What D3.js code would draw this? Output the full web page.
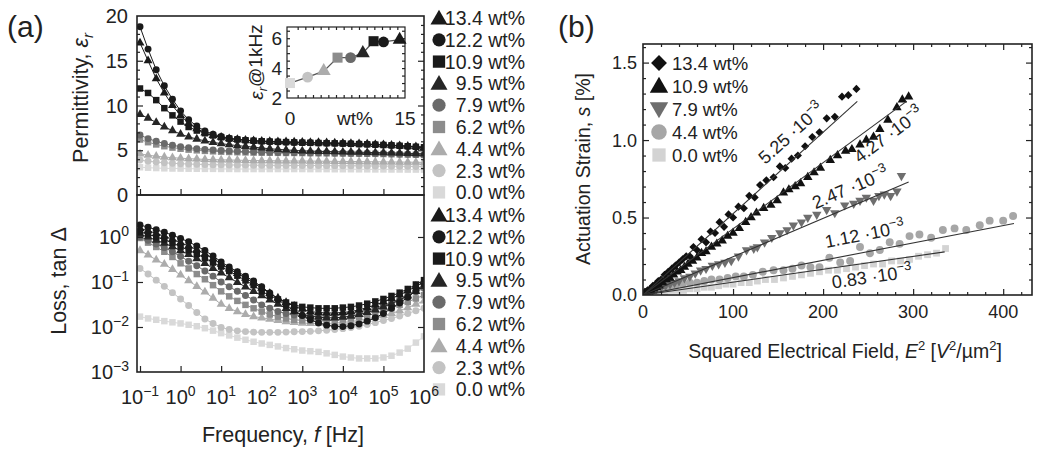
<!DOCTYPE html>
<html><head><meta charset="utf-8">
<script src="https://cdn.jsdelivr.net/npm/d3@7/dist/d3.min.js"></script>
<style>
html,body{margin:0;padding:0;background:#fff;}
svg text{font-family:"Liberation Sans",Arial,Helvetica,sans-serif;fill:#222;}
</style></head><body>
<svg id="chart" width="1039" height="449"></svg>
<script>
// ---------------- DATA ----------------
const freq = [0.1,0.158,0.251,0.398,0.631,1,1.58,2.51,3.98,6.31,10,15.8,25.1,39.8,63.1,100,158,251,398,631,1000,1580,2510,3980,6310,10000,15800,25100,39800,63100,100000,158000,251000,398000,631000,1000000];
const seriesLabels = ["13.4 wt%","12.2 wt%","10.9 wt%","9.5 wt%","7.9 wt%","6.2 wt%","4.4 wt%","2.3 wt%","0.0 wt%"];
const wtPercent = [13.4,12.2,10.9,9.5,7.9,6.2,4.4,2.3,0.0];

const perm134 = [17.0,15.0,13.0,11.4,10.0,8.9,8.0,7.4,6.95,6.65,6.45,6.3,6.2,6.12,6.06,6.02,5.99,5.97,5.95,5.93,5.9,5.88,5.86,5.84,5.82,5.8,5.77,5.74,5.7,5.66,5.62,5.57,5.52,5.46,5.4,5.33];
const perm122 = [18.8,16.3,14.0,12.2,10.7,9.4,8.4,7.7,7.15,6.8,6.55,6.35,6.22,6.12,6.05,6.0,5.96,5.93,5.9,5.87,5.85,5.83,5.81,5.79,5.77,5.75,5.72,5.69,5.66,5.62,5.58,5.53,5.48,5.43,5.37,5.3];
const perm109 = [11.9,11.4,10.6,9.7,8.9,8.2,7.6,7.2,6.9,6.65,6.45,6.3,6.2,6.12,6.06,6.01,5.97,5.94,5.91,5.88,5.85,5.83,5.81,5.79,5.77,5.75,5.72,5.69,5.66,5.63,5.59,5.55,5.5,5.45,5.39,5.33];
const perm95  = [9.0,8.6,8.1,7.6,7.2,6.8,6.5,6.25,6.05,5.88,5.74,5.62,5.52,5.43,5.35,5.25,5.17,5.1,5.04,4.98,4.93,4.9,4.88,4.86,4.84,4.82,4.8,4.78,4.76,4.74,4.72,4.7,4.68,4.66,4.63,4.6];
const perm79  = [6.7,6.3,6.0,5.75,5.55,5.4,5.28,5.18,5.1,5.03,4.98,4.93,4.89,4.85,4.82,4.79,4.77,4.75,4.73,4.72,4.71,4.7,4.69,4.68,4.67,4.66,4.65,4.64,4.63,4.62,4.6,4.58,4.56,4.54,4.51,4.48];
const perm62  = [6.2,5.9,5.65,5.45,5.3,5.17,5.07,4.99,4.93,4.88,4.84,4.81,4.78,4.76,4.74,4.73,4.72,4.71,4.7,4.7,4.69,4.68,4.67,4.66,4.65,4.64,4.63,4.62,4.61,4.6,4.58,4.56,4.54,4.52,4.5,4.47];
const perm44  = [4.6,4.45,4.33,4.24,4.17,4.11,4.06,4.02,3.98,3.95,3.93,3.91,3.89,3.87,3.85,3.84,3.83,3.82,3.81,3.8,3.8,3.79,3.78,3.77,3.76,3.75,3.74,3.73,3.72,3.71,3.7,3.69,3.68,3.67,3.66,3.65];
const perm23  = [3.9,3.78,3.68,3.6,3.54,3.5,3.46,3.43,3.41,3.39,3.37,3.36,3.35,3.34,3.33,3.32,3.31,3.31,3.3,3.3,3.3,3.29,3.29,3.28,3.28,3.27,3.27,3.26,3.25,3.24,3.23,3.22,3.21,3.2,3.19,3.18];
const perm00  = [3.1,3.05,3.01,2.98,2.96,2.95,2.94,2.93,2.92,2.92,2.91,2.91,2.9,2.9,2.9,2.9,2.9,2.9,2.9,2.9,2.9,2.89,2.89,2.89,2.88,2.88,2.88,2.87,2.87,2.86,2.86,2.85,2.85,2.84,2.84,2.83];

const loss134 = [1.55,1.38,1.2,1.04,0.89,0.75,0.63,0.52,0.42,0.33,0.25,0.195,0.155,0.122,0.095,0.073,0.056,0.044,0.035,0.029,0.025,0.022,0.021,0.0205,0.0205,0.021,0.022,0.024,0.027,0.031,0.036,0.043,0.052,0.063,0.08,0.1];
const loss122 = [1.85,1.65,1.45,1.27,1.1,0.93,0.78,0.63,0.5,0.38,0.28,0.215,0.17,0.135,0.105,0.078,0.057,0.041,0.03,0.023,0.018,0.0145,0.0123,0.011,0.0102,0.0102,0.0107,0.0117,0.0135,0.016,0.02,0.026,0.034,0.046,0.064,0.09];
const loss109 = [1.3,1.15,1.0,0.88,0.74,0.61,0.51,0.42,0.34,0.27,0.22,0.175,0.138,0.108,0.085,0.062,0.05,0.041,0.035,0.031,0.028,0.027,0.026,0.026,0.026,0.027,0.028,0.03,0.033,0.037,0.042,0.049,0.058,0.07,0.088,0.11];
const loss95  = [1.15,1.0,0.85,0.73,0.61,0.5,0.41,0.33,0.26,0.2,0.16,0.125,0.098,0.078,0.062,0.05,0.04,0.032,0.026,0.022,0.019,0.0175,0.0165,0.016,0.016,0.0165,0.0175,0.019,0.021,0.024,0.028,0.033,0.04,0.049,0.062,0.08];
const loss79  = [1.0,0.85,0.7,0.58,0.47,0.37,0.29,0.23,0.175,0.135,0.1,0.078,0.062,0.05,0.04,0.031,0.026,0.022,0.02,0.0185,0.018,0.0175,0.0175,0.0178,0.0183,0.019,0.02,0.0215,0.0235,0.026,0.03,0.035,0.041,0.049,0.06,0.073];
const loss62  = [0.95,0.75,0.6,0.47,0.36,0.26,0.2,0.15,0.115,0.085,0.062,0.048,0.038,0.031,0.026,0.022,0.019,0.017,0.0155,0.0145,0.014,0.0137,0.0135,0.0137,0.014,0.0147,0.0155,0.0167,0.018,0.02,0.023,0.026,0.031,0.036,0.043,0.051];
const loss44  = [0.5,0.4,0.31,0.25,0.19,0.143,0.107,0.08,0.06,0.044,0.032,0.026,0.022,0.019,0.017,0.016,0.015,0.014,0.0132,0.0126,0.0122,0.012,0.012,0.012,0.0122,0.0126,0.0132,0.014,0.015,0.0165,0.018,0.02,0.023,0.027,0.032,0.038];
const loss23  = [0.2,0.15,0.11,0.08,0.058,0.042,0.03,0.021,0.015,0.012,0.0098,0.0088,0.0082,0.0079,0.0077,0.0076,0.0076,0.0076,0.0077,0.0078,0.0079,0.008,0.0082,0.0085,0.0088,0.0092,0.0097,0.0104,0.0113,0.0125,0.014,0.0155,0.0175,0.02,0.023,0.026];
const loss00  = [0.017,0.0155,0.0145,0.0135,0.0127,0.012,0.0112,0.0104,0.0094,0.0083,0.0073,0.0065,0.0058,0.0052,0.0047,0.0043,0.004,0.0037,0.0034,0.0032,0.003,0.0029,0.0028,0.0026,0.0024,0.0022,0.0021,0.002,0.002,0.002,0.0021,0.0023,0.0027,0.0033,0.0045,0.0062];

// inset: permittivity at 1 kHz vs wt%
const insetWt  = [0.0,2.3,4.4,6.2,7.9,9.5,10.9,12.2,14.3];
const insetEps = [3.0,3.4,3.8,4.7,4.7,5.0,5.8,5.75,5.9];

// panel (b)
const strainLabels = ["13.4 wt%","10.9 wt%","7.9 wt%","4.4 wt%","0.0 wt%"];
const fitSlopes = [5.25e-3,4.27e-3,2.47e-3,1.12e-3,0.83e-3];
const fitSlopeText = ["5.25","4.27","2.47","1.12","0.83"];
const fitEnds = [238,293,295,412,335];
const strE134 = [2,5,8,11,14,17,20,24,28,32,36,40,44,48,52,56,60,65,70,75,80,85,90,95,100,106,112,118,124,130,137,145,152,158,165,172,180,188,196,204,213,221,228,237];
const strS134 = [0.02,0.03,0.04,0.06,0.07,0.09,0.1,0.13,0.15,0.17,0.19,0.21,0.23,0.25,0.25,0.31,0.29,0.36,0.34,0.41,0.4,0.47,0.44,0.52,0.5,0.57,0.56,0.64,0.63,0.71,0.74,0.76,0.83,0.82,0.88,0.9,0.96,1.02,1.05,1.14,1.15,1.28,1.29,1.33];
const strE109 = [3,6,9,12,15,18,22,26,30,34,38,42,46,50,55,60,65,70,76,82,88,94,100,107,114,120,126,134,142,149,156,162,169,175,183,190,197,208,216,225,232,241,248,256,263,272,282,288,295];
const strS109 = [0.01,0.02,0.03,0.04,0.05,0.06,0.08,0.1,0.11,0.13,0.15,0.16,0.18,0.2,0.22,0.24,0.27,0.28,0.31,0.33,0.35,0.38,0.4,0.43,0.47,0.5,0.53,0.56,0.58,0.61,0.66,0.68,0.7,0.72,0.76,0.79,0.82,0.87,0.9,0.93,0.94,0.97,1.0,1.02,1.07,1.13,1.21,1.26,1.28];
const strE79 = [3,7,11,15,20,25,30,35,40,46,52,58,64,70,77,84,91,98,106,115,123,127,135,143,152,160,167,176,183,193,204,213,224,234,241,248,256,262,268,275,282,287];
const strS79 = [0.01,0.02,0.03,0.04,0.05,0.06,0.07,0.08,0.09,0.11,0.12,0.14,0.16,0.17,0.19,0.2,0.21,0.22,0.25,0.29,0.3,0.31,0.34,0.37,0.4,0.42,0.45,0.47,0.5,0.52,0.55,0.53,0.58,0.59,0.61,0.63,0.61,0.64,0.65,0.64,0.67,0.77];
const strE44 = [5,12,20,28,36,44,52,60,68,76,85,94,103,112,122,133,145,156,166,176,186,196,207,219,230,241,252,263,274,285,296,307,320,333,346,359,374,385,400,411];
const strS44 = [0.02,0.03,0.04,0.05,0.06,0.07,0.08,0.08,0.09,0.1,0.1,0.11,0.12,0.12,0.13,0.15,0.16,0.16,0.17,0.19,0.18,0.18,0.24,0.21,0.22,0.31,0.27,0.29,0.34,0.33,0.38,0.39,0.37,0.42,0.43,0.42,0.45,0.48,0.48,0.51];
const strE00 = [4,10,17,24,31,38,45,52,60,68,76,84,92,100,109,118,127,136,146,156,166,176,186,196,206,216,226,236,246,256,266,276,286,296,306,316,326,336];
const strS00 = [0.01,0.01,0.02,0.02,0.03,0.03,0.03,0.04,0.04,0.05,0.05,0.06,0.07,0.07,0.08,0.08,0.09,0.1,0.1,0.11,0.12,0.13,0.14,0.15,0.16,0.16,0.17,0.18,0.19,0.2,0.2,0.22,0.22,0.23,0.25,0.26,0.27,0.3];

// ---------------- STYLE TABLES ----------------
const colorsA = ["#1a1a1a","#1a1a1a","#1a1a1a","#262626","#6a6a6a","#8c8c8c","#acacac","#c3c3c3","#d9d9d9"];
const shapesA = ["tri","circ","sq","tri","circ","sq","tri","circ","sq"];
const permAll = [perm134,perm122,perm109,perm95,perm79,perm62,perm44,perm23,perm00];
const lossAll = [loss134,loss122,loss109,loss95,loss79,loss62,loss44,loss23,loss00];
const colorsB = ["#111","#111","#6e6e6e","#a6a6a6","#d3d3d3"];
const shapesB = ["dia","tri","dtri","circ","sq"];
const strainE = [strE134,strE109,strE79,strE44,strE00];
const strainS = [strS134,strS109,strS79,strS44,strS00];

const svg = d3.select("#chart");
const INK = "#222";

function symPath(shape, scale){
  const m = {tri:[d3.symbolTriangle,35],dtri:[d3.symbolTriangle,35],circ:[d3.symbolCircle,38],sq:[d3.symbolSquare,42],dia:[d3.symbolSquare,30]};
  const [t,s] = m[shape];
  return d3.symbol().type(t).size(s*scale)();
}
function symRot(shape){ return shape==="dtri" ? " rotate(180)" : (shape==="dia" ? " rotate(45)" : ""); }

function addTicks(g, axis){
  g.call(axis);
  g.select(".domain").remove();
  g.selectAll(".tick line").attr("stroke", INK).attr("stroke-width", 1.2);
  g.selectAll(".tick text").remove();
}
function supText(sel, base, sup, supSize){
  sel.append("tspan").text(base);
  sel.append("tspan").attr("font-size", supSize).attr("dy", "-0.6em").text(sup);
}

// ---------------- PANEL (a) ----------------
const aL = 137, aR = 424, aT = 16, aM = 195, aB = 372;
const xa = d3.scaleLog().domain([0.1, 1e6]).range([140, aR]);
const yP = d3.scaleLinear().domain([0, 20]).range([aM, aT]);
const yL = d3.scaleLog().domain([1e-3, Math.pow(10, 0.933)]).range([aB, aM]);
const decades = [0.1,1,10,100,1e3,1e4,1e5,1e6];
const decExp = ["\u22121","0","1","2","3","4","5","6"];

svg.append("defs").html(
  `<clipPath id="clipP"><rect x="${aL}" y="${aT}" width="${aR-aL}" height="${aM-aT}"/></clipPath>
   <clipPath id="clipL"><rect x="${aL}" y="${aM}" width="${aR-aL}" height="${aB-aM}"/></clipPath>
   <clipPath id="clipB"><rect x="643" y="44" width="389" height="251"/></clipPath>`);

// series (upper + lower), light first
[["clipP", permAll, yP], ["clipL", lossAll, yL]].forEach(([clip, arr, ys]) => {
  const g = svg.append("g").attr("clip-path", `url(#${clip})`);
  for (let k = arr.length - 1; k >= 0; k--) {
    const pts = freq.map((f, i) => ({f, v: arr[k][i]}));
    g.append("path").datum(pts)
      .attr("d", d3.line().x(d => xa(d.f)).y(d => ys(d.v)))
      .attr("fill", "none").attr("stroke", colorsA[k]).attr("stroke-width", 1);
    g.selectAll(null).data(pts).enter().append("path")
      .attr("d", symPath(shapesA[k], 1))
      .attr("transform", d => `translate(${xa(d.f)},${ys(d.v)})`)
      .attr("fill", colorsA[k]);
  }
});

// inset
const iL = 287, iR = 405, iT = 27, iB = 98;
const xi = d3.scaleLinear().domain([0, 15]).range([290, 405]);
const yi = d3.scaleLinear().domain([2, 6.75]).range([iB, iT]);
svg.append("rect").attr("x", iL).attr("y", iT).attr("width", iR - iL).attr("height", iB - iT)
  .attr("fill", "#fff").attr("stroke", INK).attr("stroke-width", 1.2);
addTicks(svg.append("g").attr("transform", `translate(0,${iB})`), d3.axisBottom(xi).tickValues(d3.range(1, 15)).tickSize(-3));
addTicks(svg.append("g").attr("transform", `translate(0,${iT})`), d3.axisTop(xi).tickValues(d3.range(1, 15)).tickSize(-3));
addTicks(svg.append("g").attr("transform", `translate(${iL},0)`), d3.axisLeft(yi).tickValues([2.5,3,3.5,4,4.5,5,5.5,6,6.5]).tickSize(-3));
addTicks(svg.append("g").attr("transform", `translate(${iR},0)`), d3.axisRight(yi).tickValues([2.5,3,3.5,4,4.5,5,5.5,6,6.5]).tickSize(-3));
const insetPts = insetWt.map((w, i) => ({w, e: insetEps[i], k: 8 - i}));
svg.append("path").datum(insetPts).attr("d", d3.line().x(d => xi(d.w)).y(d => yi(d.e)))
  .attr("fill", "none").attr("stroke", "#555").attr("stroke-width", 1.3);
svg.selectAll(null).data(insetPts).enter().append("path")
  .attr("d", d => symPath(shapesA[d.k], 2.4))
  .attr("transform", d => `translate(${xi(d.w)},${yi(d.e)})`)
  .attr("fill", d => colorsA[d.k]);
[2, 4, 6].forEach(v => svg.append("text").attr("x", 282).attr("y", yi(v)).attr("dy", "0.36em")
  .attr("text-anchor", "end").attr("font-size", 19).text(v));
[0, 15].forEach(v => svg.append("text").attr("x", xi(v)).attr("y", 125).attr("text-anchor", "middle").attr("font-size", 19).text(v));
svg.append("text").attr("x", 355).attr("y", 125).attr("text-anchor", "middle").attr("font-size", 19).text("wt%");
{
  const t = svg.append("text").attr("transform", "translate(263,62) rotate(-90)").attr("text-anchor", "middle").attr("font-size", 19);
  t.append("tspan").attr("font-style", "italic").text("\u03b5");
  t.append("tspan").attr("font-style", "italic").attr("font-size", 13).attr("dy", "0.3em").text("r");
  t.append("tspan").attr("dy", "-0.25em").text("@1kHz");
}

// frames
svg.append("rect").attr("x", aL).attr("y", aT).attr("width", aR - aL).attr("height", aM - aT).attr("fill", "none").attr("stroke", INK).attr("stroke-width", 1.6);
svg.append("rect").attr("x", aL).attr("y", aM).attr("width", aR - aL).attr("height", aB - aM).attr("fill", "none").attr("stroke", INK).attr("stroke-width", 1.6);

// ticks panel (a)
addTicks(svg.append("g").attr("transform", `translate(${aL},0)`), d3.axisLeft(yP).tickValues(d3.range(1, 20).filter(v => v % 5)).tickSize(-3));
addTicks(svg.append("g").attr("transform", `translate(${aL},0)`), d3.axisLeft(yP).tickValues([5, 10, 15]).tickSize(-6));
addTicks(svg.append("g").attr("transform", `translate(${aR},0)`), d3.axisRight(yP).tickValues(d3.range(1, 20).filter(v => v % 5)).tickSize(-3));
addTicks(svg.append("g").attr("transform", `translate(${aR},0)`), d3.axisRight(yP).tickValues([5, 10, 15]).tickSize(-6));
addTicks(svg.append("g").attr("transform", `translate(0,${aM})`), d3.axisBottom(xa).tickValues(decades.slice(0, 7)).tickSize(-6));
addTicks(svg.append("g").attr("transform", `translate(0,${aB})`), d3.axisBottom(xa).tickValues(decades.slice(0, 7)).tickSize(-6));
addTicks(svg.append("g").attr("transform", `translate(${aL},0)`), d3.axisLeft(yL).tickValues([0.01, 0.1, 1]).tickSize(-6));
addTicks(svg.append("g").attr("transform", `translate(${aR},0)`), d3.axisRight(yL).tickValues([0.01, 0.1, 1]).tickSize(-6));

// legends panel (a)
[18, 215].forEach(y0 => {
  seriesLabels.forEach((lab, k) => {
    const y = y0 + k * 21.8;
    svg.append("path").attr("d", symPath(shapesA[k], 3.6))
      .attr("transform", `translate(439,${y + (shapesA[k] === "tri" ? 1.5 : 0)})`).attr("fill", colorsA[k]);
    svg.append("text").attr("x", 525).attr("y", y).attr("dy", "0.36em").attr("text-anchor", "end").attr("font-size", 19.5).text(lab);
  });
});

// tick labels panel (a)
[0, 5, 10, 15, 20].forEach(v => svg.append("text").attr("x", 128).attr("y", yP(v)).attr("dy", "0.36em")
  .attr("text-anchor", "end").attr("font-size", 20).text(v));
[[1, "0"], [0.1, "\u22121"], [0.01, "\u22122"], [0.001, "\u22123"]].forEach(([v, e]) => {
  const t = svg.append("text").attr("x", 129).attr("y", yL(v)).attr("dy", "0.36em").attr("text-anchor", "end").attr("font-size", 20);
  supText(t, "10", e, 14);
});
decades.forEach((v, i) => {
  const t = svg.append("text").attr("x", xa(v)).attr("y", 404).attr("text-anchor", "middle").attr("font-size", 20);
  supText(t, "10", decExp[i], 14);
});

// axis titles panel (a)
{
  const t = svg.append("text").attr("x", 283).attr("y", 442).attr("text-anchor", "middle").attr("font-size", 21.5);
  t.append("tspan").text("Frequency, ");
  t.append("tspan").attr("font-style", "italic").text("f");
  t.append("tspan").text(" [Hz]");
  const p = svg.append("text").attr("transform", "translate(88,98) rotate(-90)").attr("text-anchor", "middle").attr("font-size", 21.5);
  p.append("tspan").text("Permittivity, ");
  p.append("tspan").attr("font-style", "italic").text("\u03b5");
  p.append("tspan").attr("font-style", "italic").attr("font-size", 15).attr("dy", "0.3em").text("r");
  const l = svg.append("text").attr("transform", "translate(66,281) rotate(-90)").attr("text-anchor", "middle").attr("font-size", 21.5);
  l.text("Loss, tan \u0394");
}

svg.append("text").attr("x", 7).attr("y", 37).attr("font-size", 30).text("(a)");
svg.append("text").attr("x", 558).attr("y", 37).attr("font-size", 30).text("(b)");

// ---------------- PANEL (b) ----------------
const bL = 643, bR = 1032, bT = 44, bB = 295;
const xb = d3.scaleLinear().domain([0, 432]).range([bL, bR]);
const yb = d3.scaleLinear().domain([0, 1.62]).range([bB, bT]);

const gb = svg.append("g").attr("clip-path", "url(#clipB)");
for (let k = 4; k >= 0; k--) {
  const pts = strainE[k].map((e, i) => ({e, s: strainS[k][i]}));
  gb.selectAll(null).data(pts).enter().append("path")
    .attr("d", symPath(shapesB[k], shapesB[k] === "circ" ? 1.3 : 1.1))
    .attr("transform", d => `translate(${xb(d.e)},${yb(d.s)})${symRot(shapesB[k])}`)
    .attr("fill", colorsB[k]);
}
fitSlopes.forEach((m, k) => {
  gb.append("line").attr("x1", xb(0)).attr("y1", yb(0)).attr("x2", xb(fitEnds[k])).attr("y2", yb(m * fitEnds[k]))
    .attr("stroke", "#333").attr("stroke-width", 1.1);
});

// slope annotations
const labE = [180, 262, 238, 250, 252];
const labOff = [-21, 16, -18, -18, 14];
fitSlopes.forEach((m, k) => {
  const ang = Math.atan2(yb(0) - yb(m * 100), xb(100) - xb(0)) * 180 / Math.PI;
  const g = svg.append("g").attr("transform", `translate(${xb(labE[k])},${yb(m * labE[k])}) rotate(${-ang})`);
  const t = g.append("text").attr("x", 0).attr("y", labOff[k]).attr("dy", "0.36em").attr("text-anchor", "middle").attr("font-size", 18);
  t.append("tspan").text(fitSlopeText[k] + " \u00b710");
  t.append("tspan").attr("font-size", 13).attr("dy", "-0.6em").text("\u22123");
});

svg.append("rect").attr("x", bL).attr("y", bT).attr("width", bR - bL).attr("height", bB - bT).attr("fill", "none").attr("stroke", INK).attr("stroke-width", 1.6);
const minorX = d3.range(20, 432, 20).filter(v => v % 100);
const minorY = d3.range(1, 17).map(v => v / 10).filter(v => Math.abs(v * 2 - Math.round(v * 2)) > 1e-6);
addTicks(svg.append("g").attr("transform", `translate(0,${bB})`), d3.axisBottom(xb).tickValues(minorX).tickSize(-3));
addTicks(svg.append("g").attr("transform", `translate(0,${bB})`), d3.axisBottom(xb).tickValues([100, 200, 300, 400]).tickSize(-6));
addTicks(svg.append("g").attr("transform", `translate(0,${bT})`), d3.axisTop(xb).tickValues(minorX).tickSize(-3));
addTicks(svg.append("g").attr("transform", `translate(0,${bT})`), d3.axisTop(xb).tickValues([100, 200, 300, 400]).tickSize(-6));
addTicks(svg.append("g").attr("transform", `translate(${bL},0)`), d3.axisLeft(yb).tickValues(minorY).tickSize(-3));
addTicks(svg.append("g").attr("transform", `translate(${bL},0)`), d3.axisLeft(yb).tickValues([0.5, 1.0, 1.5]).tickSize(-6));
addTicks(svg.append("g").attr("transform", `translate(${bR},0)`), d3.axisRight(yb).tickValues(minorY).tickSize(-3));
addTicks(svg.append("g").attr("transform", `translate(${bR},0)`), d3.axisRight(yb).tickValues([0.5, 1.0, 1.5]).tickSize(-6));

[0, 100, 200, 300, 400].forEach(v => svg.append("text").attr("x", xb(v)).attr("y", 318).attr("text-anchor", "middle").attr("font-size", 18).text(v));
[0, 0.5, 1.0, 1.5].forEach(v => svg.append("text").attr("x", 637).attr("y", yb(v)).attr("dy", "0.36em").attr("text-anchor", "end").attr("font-size", 18).text(v.toFixed(1)));

{
  const t = svg.append("text").attr("x", 845).attr("y", 358).attr("text-anchor", "middle").attr("font-size", 19.5);
  t.append("tspan").text("Squared Electrical Field, ");
  t.append("tspan").attr("font-style", "italic").text("E");
  t.append("tspan").attr("font-size", 13).attr("dy", "-0.6em").text("2");
  t.append("tspan").attr("dy", "0.4em").text(" [");
  t.append("tspan").attr("font-style", "italic").text("V");
  t.append("tspan").attr("font-size", 13).attr("dy", "-0.6em").text("2");
  t.append("tspan").attr("dy", "0.4em").text("/\u00b5m");
  t.append("tspan").attr("font-size", 13).attr("dy", "-0.6em").text("2");
  t.append("tspan").attr("dy", "0.4em").text("]");
  const y = svg.append("text").attr("transform", "translate(590,169) rotate(-90)").attr("text-anchor", "middle").attr("font-size", 19.5);
  y.append("tspan").text("Actuation Strain, ");
  y.append("tspan").attr("font-style", "italic").text("s");
  y.append("tspan").text(" [%]");
}

// legend (b)
strainLabels.forEach((lab, k) => {
  const y = 63 + k * 23;
  svg.append("path").attr("d", symPath(shapesB[k], shapesB[k] === "circ" ? 5 : 4.2))
    .attr("transform", `translate(659,${y + (shapesB[k] === "tri" ? 1.5 : shapesB[k] === "dtri" ? -1.5 : 0)})${symRot(shapesB[k])}`)
    .attr("fill", colorsB[k]);
  svg.append("text").attr("x", 672).attr("y", y).attr("dy", "0.36em").attr("font-size", 18.5).text(lab);
});
</script>
</body></html>
